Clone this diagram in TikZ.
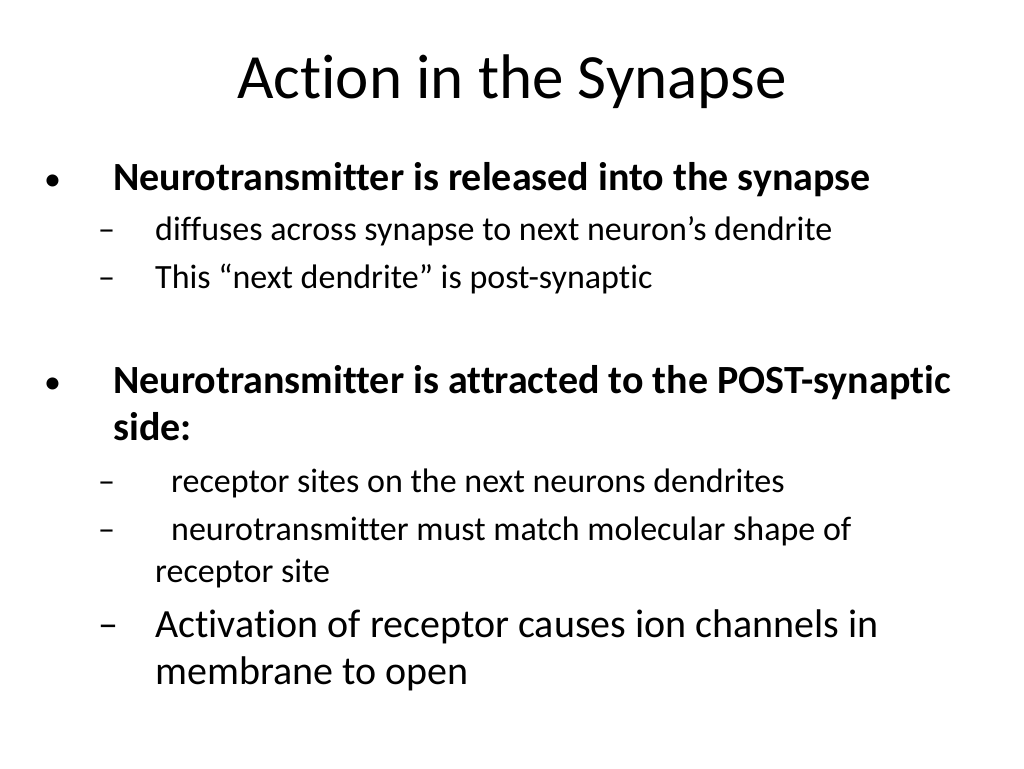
\documentclass[tikz,border=0pt]{standalone}
\usepackage{fontspec}
\setmainfont[Ligatures=NoCommon]{Carlito}
\begin{document}
\begin{tikzpicture}[x=1pt,y=1pt,yscale=-1,xscale=1]
	\useasboundingbox (0,0) rectangle (1024,768);
	% Title
	\draw (512,98) node [anchor=base][inner sep=0pt] (title) {\fontsize{63}{63}\selectfont Action in the Synapse};
	% First bullet
	\draw (44,190) node [anchor=base west][inner sep=0pt] (b1) {\fontsize{34}{34}\selectfont •};
	\draw (113,190) node [anchor=base west][inner sep=0pt] (t1) {\fontsize{40}{40}\selectfont\bfseries Neurotransmitter is released into the synapse};
	\draw (98,240) node [anchor=base west][inner sep=0pt] (d1) {\fontsize{34}{34}\selectfont –};
	\draw (155,240) node [anchor=base west][inner sep=0pt] (t2) {\fontsize{34}{34}\selectfont diffuses across synapse to next neuron’s dendrite};
	\draw (98,288) node [anchor=base west][inner sep=0pt] (d2) {\fontsize{34}{34}\selectfont –};
	\draw (155,288) node [anchor=base west][inner sep=0pt] (t3) {\fontsize{34}{34}\selectfont This “next dendrite” is post-synaptic};
	% Second bullet
	\draw (44,393) node [anchor=base west][inner sep=0pt] (b2) {\fontsize{34}{34}\selectfont •};
	\draw (113,393) node [anchor=base west][inner sep=0pt] (t4) {\fontsize{40}{40}\selectfont\bfseries Neurotransmitter is attracted to the POST-synaptic};
	\draw (113,440) node [anchor=base west][inner sep=0pt] (t5) {\fontsize{40}{40}\selectfont\bfseries side:};
	\draw (98,492) node [anchor=base west][inner sep=0pt] (d3) {\fontsize{34}{34}\selectfont –};
	\draw (171,492) node [anchor=base west][inner sep=0pt] (t6) {\fontsize{34}{34}\selectfont receptor sites on the next neurons dendrites};
	\draw (98,540) node [anchor=base west][inner sep=0pt] (d4) {\fontsize{34}{34}\selectfont –};
	\draw (171,540) node [anchor=base west][inner sep=0pt] (t7) {\fontsize{34}{34}\selectfont neurotransmitter must match molecular shape of};
	\draw (155,582) node [anchor=base west][inner sep=0pt] (t8) {\fontsize{34}{34}\selectfont receptor site};
	\draw (98,637) node [anchor=base west][inner sep=0pt] (d5) {\fontsize{40}{40}\selectfont –};
	\draw (155,637) node [anchor=base west][inner sep=0pt] (t9) {\fontsize{40}{40}\selectfont Activation of receptor causes ion channels in};
	\draw (155,684) node [anchor=base west][inner sep=0pt] (t10) {\fontsize{40}{40}\selectfont membrane to open};
\end{tikzpicture}
\end{document}
